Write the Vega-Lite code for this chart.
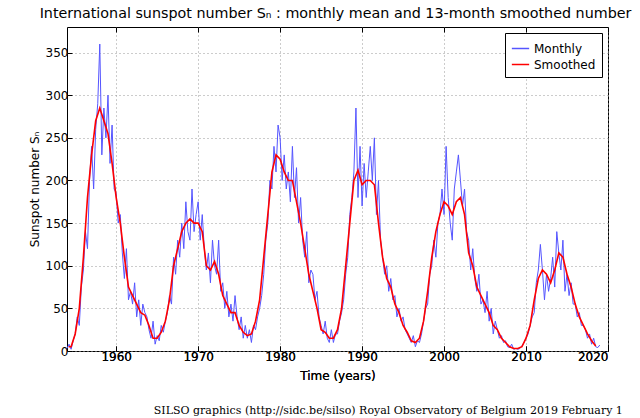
{
  "$schema": "https://vega.github.io/schema/vega-lite/v6.json",
  "autosize": "none",
  "width": 541,
  "height": 324,
  "padding": {"left": 67, "top": 27, "right": 32, "bottom": 67},
  "background": "white",
  "title": {"text": "SILSO graphics (http://sidc.be/silso)  Royal Observatory of Belgium  2019 February 1", "orient": "bottom", "anchor": "end", "font": "DejaVu Serif", "fontSize": 11, "fontWeight": "normal", "offset": 24, "dx": -8},
  "config": {
    "view": {"stroke": "black", "strokeWidth": 1},
    "axis": {"labelFont": "DejaVu Sans", "labelFontSize": 12, "labelColor": "black", "titleFont": "DejaVu Sans", "titleFontSize": 12, "titleFontWeight": "normal", "gridColor": "#999", "gridDash": [1, 3], "gridOpacity": 1, "domain": false, "tickColor": "black", "tickSize": -5}
  },
  "datasets": {
    "monthly": [
      [1954.0,3],[1954.25,8],[1954.5,2],[1954.75,12],
      [1955.0,20],[1955.25,40],[1955.5,30],[1955.75,75],
      [1956.0,95],[1956.25,140],[1956.5,120],[1956.75,200],
      [1957.0,240],[1957.25,190],[1957.5,260],[1957.75,290],
      [1958.0,360],[1958.25,230],[1958.5,285],[1958.75,250],
      [1959.0,300],[1959.25,220],[1959.5,265],[1959.75,190],
      [1960.0,185],[1960.25,150],[1960.5,160],[1960.75,115],
      [1961.0,85],[1961.25,120],[1961.5,60],[1961.75,70],
      [1962.0,55],[1962.25,80],[1962.5,40],[1962.75,60],
      [1963.0,30],[1963.25,55],[1963.5,45],[1963.75,40],
      [1964.0,25],[1964.25,15],[1964.5,35],[1964.75,8],
      [1965.0,18],[1965.25,12],[1965.5,30],[1965.75,22],
      [1966.0,35],[1966.25,45],[1966.5,65],[1966.75,55],
      [1967.0,110],[1967.25,90],[1967.5,130],[1967.75,110],
      [1968.0,150],[1968.25,120],[1968.5,175],[1968.75,140],
      [1969.0,130],[1969.25,190],[1969.5,140],[1969.75,160],
      [1970.0,175],[1970.25,130],[1970.5,160],[1970.75,120],
      [1971.0,95],[1971.25,115],[1971.5,80],[1971.75,130],
      [1972.0,100],[1972.25,90],[1972.5,130],[1972.75,70],
      [1973.0,80],[1973.25,50],[1973.5,70],[1973.75,40],
      [1974.0,55],[1974.25,35],[1974.5,65],[1974.75,40],
      [1975.0,25],[1975.25,40],[1975.5,15],[1975.75,30],
      [1976.0,15],[1976.25,25],[1976.5,10],[1976.75,30],
      [1977.0,25],[1977.25,40],[1977.5,50],[1977.75,65],
      [1978.0,90],[1978.25,130],[1978.5,150],[1978.75,200],
      [1979.0,190],[1979.25,240],[1979.5,210],[1979.75,265],
      [1980.0,250],[1980.25,200],[1980.5,230],[1980.75,190],
      [1981.0,210],[1981.25,175],[1981.5,240],[1981.75,180],
      [1982.0,215],[1982.25,150],[1982.5,180],[1982.75,130],
      [1983.0,110],[1983.25,140],[1983.5,80],[1983.75,95],
      [1984.0,90],[1984.25,60],[1984.5,70],[1984.75,40],
      [1985.0,30],[1985.25,20],[1985.5,35],[1985.75,15],
      [1986.0,10],[1986.25,25],[1986.5,10],[1986.75,20],
      [1987.0,20],[1987.25,35],[1987.5,45],[1987.75,60],
      [1988.0,90],[1988.25,110],[1988.5,160],[1988.75,180],
      [1989.0,210],[1989.25,285],[1989.5,180],[1989.75,240],
      [1990.0,170],[1990.25,220],[1990.5,180],[1990.75,210],
      [1991.0,240],[1991.25,200],[1991.5,250],[1991.75,160],
      [1992.0,200],[1992.25,130],[1992.5,110],[1992.75,90],
      [1993.0,100],[1993.25,70],[1993.5,85],[1993.75,60],
      [1994.0,65],[1994.25,40],[1994.5,50],[1994.75,35],
      [1995.0,40],[1995.25,25],[1995.5,20],[1995.75,15],
      [1996.0,10],[1996.25,18],[1996.5,5],[1996.75,12],
      [1997.0,10],[1997.25,20],[1997.5,35],[1997.75,50],
      [1998.0,55],[1998.25,90],[1998.5,100],[1998.75,130],
      [1999.0,110],[1999.25,150],[1999.5,160],[1999.75,190],
      [2000.0,160],[2000.25,240],[2000.5,180],[2000.75,150],
      [2001.0,130],[2001.25,190],[2001.5,210],[2001.75,230],
      [2002.0,200],[2002.25,170],[2002.5,190],[2002.75,140],
      [2003.0,130],[2003.25,95],[2003.5,120],[2003.75,85],
      [2004.0,70],[2004.25,90],[2004.5,55],[2004.75,60],
      [2005.0,45],[2005.25,70],[2005.5,35],[2005.75,50],
      [2006.0,20],[2006.25,35],[2006.5,25],[2006.75,15],
      [2007.0,18],[2007.25,10],[2007.5,12],[2007.75,5],
      [2008.0,4],[2008.25,8],[2008.5,2],[2008.75,3],
      [2009.0,2],[2009.25,3],[2009.5,6],[2009.75,10],
      [2010.0,15],[2010.25,20],[2010.5,30],[2010.75,40],
      [2011.0,45],[2011.25,80],[2011.5,95],[2011.75,125],
      [2012.0,95],[2012.25,60],[2012.5,90],[2012.75,70],
      [2013.0,85],[2013.25,110],[2013.5,75],[2013.75,140],
      [2014.0,115],[2014.25,95],[2014.5,130],[2014.75,70],
      [2015.0,90],[2015.25,65],[2015.5,80],[2015.75,55],
      [2016.0,55],[2016.25,40],[2016.5,45],[2016.75,30],
      [2017.0,30],[2017.25,25],[2017.5,15],[2017.75,20],
      [2018.0,8],[2018.25,15],[2018.5,5],[2018.75,4],[2019.0,7]
    ],
    "smoothed": [
      [1954.2,5],[1954.5,5],[1955,20],[1955.5,50],[1956,110],[1956.5,180],[1957,230],[1957.5,270],[1958,285],[1958.5,270],[1959,255],[1959.5,220],
      [1960,180],[1960.5,150],[1961,110],[1961.5,75],[1962,65],[1962.5,55],[1963,45],[1963.5,42],[1964,30],[1964.5,15],[1965,15],[1965.5,22],[1966,35],[1966.5,60],[1967,100],[1967.5,120],[1968,140],[1968.5,150],[1969,155],[1969.5,150],
      [1970,150],[1970.5,140],[1971,100],[1971.5,95],[1972,105],[1972.5,90],[1973,65],[1973.5,55],[1974,45],[1974.5,45],[1975,30],[1975.5,22],[1976,18],[1976.5,20],[1977,35],[1977.5,60],[1978,110],[1978.5,160],[1979,210],[1979.5,230],
      [1980,225],[1980.5,210],[1981,200],[1981.5,200],[1982,175],[1982.5,150],[1983,120],[1983.5,90],[1984,70],[1984.5,50],[1985,25],[1985.5,22],[1986,15],[1986.5,15],[1987,25],[1987.5,50],[1988,100],[1988.5,150],[1989,200],[1989.5,212],
      [1990,195],[1990.5,200],[1991,200],[1991.5,195],[1992,150],[1992.5,110],[1993,85],[1993.5,75],[1994,55],[1994.5,45],[1995,30],[1995.5,22],[1996,12],[1996.5,10],[1997,15],[1997.5,35],[1998,70],[1998.5,110],[1999,140],[1999.5,160],
      [2000,175],[2000.5,170],[2001,160],[2001.5,175],[2002,180],[2002.5,160],[2003,115],[2003.5,100],[2004,75],[2004.5,65],[2005,55],[2005.5,45],[2006,30],[2006.5,25],[2007,15],[2007.5,10],[2008,5],[2008.5,3],[2009,3],[2009.5,5],
      [2010,15],[2010.5,30],[2011,60],[2011.5,85],[2012,95],[2012.5,90],[2013,80],[2013.5,95],[2014,115],[2014.5,110],[2015,90],[2015.5,75],[2016,55],[2016.5,40],[2017,30],[2017.5,20],[2018,12],[2018.5,6]
    ]
  },
  "encoding": {
    "x": {"field": "t", "type": "quantitative", "scale": {"domain": [1954, 2020], "nice": false, "zero": false},
      "axis": {"orient": "bottom", "title": "Time (years)", "values": [1960, 1970, 1980, 1990, 2000, 2010, 2020], "format": "d", "labelPadding": 5, "titlePadding": 8}},
    "y": {"field": "v", "type": "quantitative", "scale": {"domain": [0, 380], "nice": false},
      "axis": {"title": "Sunspot number Sₙ", "values": [0, 50, 100, 150, 200, 250, 300, 350], "labelPadding": 4}},
    "color": {"field": "series", "type": "nominal", "scale": {"domain": ["Monthly", "Smoothed"], "range": ["#5555ff", "#ff0000"]},
      "legend": {"title": null, "orient": "top-right", "offset": 6, "strokeColor": "black", "fillColor": "white", "padding": 6, "symbolType": "stroke", "symbolStrokeWidth": 1.5, "symbolSize": 300, "labelFont": "DejaVu Sans", "labelFontSize": 12, "labelColor": "black", "rowPadding": 0}}
  },
  "layer": [
    {
      "data": {"name": "monthly"},
      "transform": [{"calculate": "datum[0]", "as": "t"}, {"calculate": "datum[1]", "as": "v"}, {"calculate": "'Monthly'", "as": "series"}],
      "mark": {"type": "line", "strokeWidth": 1, "clip": true}
    },
    {
      "data": {"name": "smoothed"},
      "transform": [{"calculate": "datum[0]", "as": "t"}, {"calculate": "datum[1]", "as": "v"}, {"calculate": "'Smoothed'", "as": "series"}],
      "mark": {"type": "line", "strokeWidth": 1.6, "clip": true}
    },
    {
      "data": {"values": [{"t": 2020}]},
      "mark": {"type": "rule", "opacity": 0},
      "encoding": {
        "x": {"field": "t", "type": "quantitative", "scale": {"domain": [1954, 2020], "nice": false},
          "axis": {"orient": "top", "labels": false, "grid": false, "values": [1960, 1970, 1980, 1990, 2000, 2010, 2020], "title": "International sunspot number Sₙ : monthly mean and 13-month smoothed number", "titleFontSize": 14.3, "titlePadding": 6, "titleX": 268}},
        "y": {"datum": 0},
        "color": {"value": "transparent"}
      }
    }
  ],
  "resolve": {"scale": {"x": "independent"}, "axis": {"x": "independent"}}
}
